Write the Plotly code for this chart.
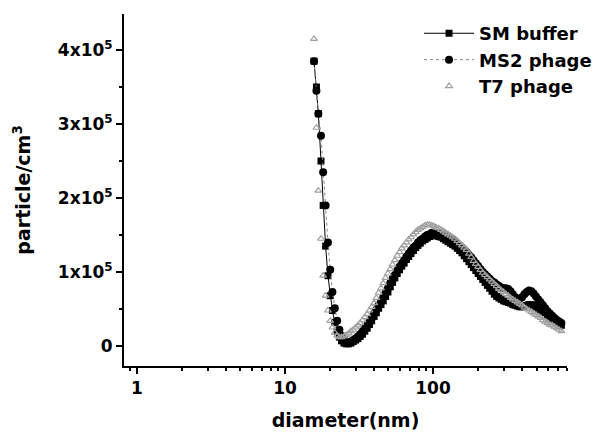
import plotly.graph_objects as go

# particle diameter channels (nm)
diameter = [
    15.7, 16.3, 16.8, 17.5, 18.1, 18.8, 19.5, 20.2, 20.9, 21.7,
    22.5, 23.3, 24.1, 25.0, 25.9, 26.9, 27.9, 28.9, 30.0, 31.1,
    32.2, 33.4, 34.6, 35.9, 37.2, 38.5, 40.0, 41.4, 42.9, 44.5,
    46.1, 47.8, 49.6, 51.4, 53.3, 55.2, 57.3, 59.4, 61.5, 63.8,
    66.1, 68.5, 71.0, 73.7, 76.4, 79.1, 82.0, 85.1, 88.2, 91.4,
    94.7, 98.2, 101.8, 105.5, 109.4, 113.4, 117.6, 121.9, 126.3, 131.0,
    135.8, 140.7, 145.9, 151.2, 156.8, 162.5, 168.5, 174.7, 181.1, 187.7,
    194.6, 201.7, 209.1, 216.7, 224.7, 232.9, 241.4, 250.3, 259.5, 269.0,
    278.8, 289.0, 299.6, 310.6, 322.0, 333.8, 346.0, 358.7, 371.8, 385.4,
    399.5, 414.2, 429.4, 445.1, 461.4, 478.3, 495.8, 514.0, 532.8, 552.3,
    572.5, 593.5, 615.3, 637.8, 661.2, 685.4, 710.5, 736.5,
]

# concentrations in units of 1e5 particle/cm3
sm_buffer = [
    3.85, 3.50, 3.14, 2.50, 1.90, 1.35, 0.95, 0.68, 0.48, 0.32,
    0.20, 0.12, 0.07, 0.04, 0.03, 0.03, 0.04, 0.06, 0.08, 0.10,
    0.13, 0.16, 0.20, 0.24, 0.29, 0.34, 0.40, 0.45, 0.51, 0.56,
    0.61, 0.67, 0.73, 0.80, 0.86, 0.92, 0.98, 1.03, 1.08, 1.12,
    1.17, 1.21, 1.25, 1.29, 1.33, 1.36, 1.39, 1.42, 1.44, 1.46,
    1.48, 1.49, 1.50, 1.49, 1.48, 1.47, 1.45, 1.43, 1.41, 1.39,
    1.37, 1.35, 1.32, 1.29, 1.26, 1.22, 1.18, 1.14, 1.10, 1.06,
    1.02, 0.98, 0.94, 0.90, 0.86, 0.82, 0.78, 0.74, 0.70, 0.67,
    0.65, 0.63, 0.61, 0.60, 0.59, 0.58, 0.56, 0.55, 0.54, 0.53,
    0.53, 0.54, 0.55, 0.56, 0.56, 0.55, 0.53, 0.51, 0.49, 0.47,
    0.45, 0.42, 0.40, 0.37, 0.35, 0.32, 0.30, 0.28,
]

ms2_phage = [
    3.85, 3.45, 3.14, 2.84, 2.35, 1.90, 1.40, 1.03, 0.73, 0.51,
    0.34, 0.22, 0.14, 0.09, 0.06, 0.05, 0.06, 0.08, 0.10, 0.13,
    0.16, 0.20, 0.24, 0.28, 0.33, 0.38, 0.44, 0.49, 0.55, 0.60,
    0.66, 0.72, 0.78, 0.85, 0.91, 0.96, 1.02, 1.07, 1.12, 1.16,
    1.21, 1.25, 1.29, 1.33, 1.36, 1.40, 1.43, 1.45, 1.48, 1.50,
    1.51, 1.53, 1.53, 1.53, 1.52, 1.51, 1.50, 1.48, 1.47, 1.45,
    1.43, 1.41, 1.38, 1.36, 1.33, 1.30, 1.27, 1.23, 1.20, 1.16,
    1.12, 1.08, 1.04, 1.00, 0.97, 0.94, 0.91, 0.88, 0.86, 0.83,
    0.81, 0.79, 0.78, 0.78, 0.77, 0.74, 0.70, 0.66, 0.64, 0.64,
    0.66, 0.70, 0.73, 0.75, 0.74, 0.71, 0.67, 0.63, 0.59, 0.55,
    0.51, 0.47, 0.44, 0.41, 0.38, 0.35, 0.33, 0.31,
]

t7_phage = [
    4.15, 2.95, 2.10, 1.45, 0.95, 0.68, 0.48, 0.34, 0.25, 0.18,
    0.14, 0.12, 0.12, 0.13, 0.15, 0.17, 0.20, 0.22, 0.25, 0.28,
    0.31, 0.35, 0.39, 0.43, 0.48, 0.53, 0.58, 0.65, 0.72, 0.78,
    0.85, 0.92, 0.98, 1.04, 1.10, 1.16, 1.22, 1.27, 1.32, 1.36,
    1.40, 1.44, 1.47, 1.51, 1.54, 1.57, 1.59, 1.61, 1.63, 1.64,
    1.64, 1.63, 1.62, 1.60, 1.59, 1.57, 1.55, 1.53, 1.51, 1.49,
    1.47, 1.45, 1.42, 1.39, 1.36, 1.33, 1.30, 1.25, 1.20, 1.15,
    1.11, 1.07, 1.03, 0.99, 0.96, 0.93, 0.90, 0.87, 0.84, 0.81,
    0.78, 0.75, 0.73, 0.70, 0.68, 0.65, 0.63, 0.61, 0.59, 0.57,
    0.55, 0.52, 0.50, 0.48, 0.46, 0.44, 0.42, 0.40, 0.38, 0.35,
    0.33, 0.31, 0.29, 0.28, 0.26, 0.24, 0.22, 0.20,
]

series_names = ["SM buffer", "MS2 phage", "T7 phage"]
y_tickvals = [0, 1, 2, 3, 4]
y_ticktext = ["0", "1x10<sup>5</sup>", "2x10<sup>5</sup>", "3x10<sup>5</sup>", "4x10<sup>5</sup>"]
x_tickvals = [1, 10, 100]
x_ticktext = ["1", "10", "100"]

FONT = "DejaVu Sans"

fig = go.Figure()
fig.add_trace(go.Scatter(
    x=diameter, y=sm_buffer, name=series_names[0], mode="lines+markers",
    line=dict(color="black", width=1),
    marker=dict(symbol="square", size=7, color="black"),
))
fig.add_trace(go.Scatter(
    x=diameter, y=ms2_phage, name=series_names[1], mode="lines+markers",
    line=dict(color="#888888", width=1, dash="dot"),
    marker=dict(symbol="circle", size=8, color="black"),
))
fig.add_trace(go.Scatter(
    x=diameter, y=t7_phage, name=series_names[2], mode="markers",
    marker=dict(symbol="triangle-up-open", size=6, color="#a0a0a0",
                line=dict(width=1.2, color="#a0a0a0")),
))

axis_font = dict(family=FONT, size=17, color="black", weight="bold")

fig.update_layout(
    width=607, height=433,
    margin=dict(l=116, r=48, t=6, b=75, autoexpand=False),
    paper_bgcolor="white", plot_bgcolor="white",
    showlegend=True,
    legend=dict(
        x=0.666, y=0.997, xanchor="left", yanchor="top",
        font=dict(family=FONT, size=18, color="black", weight="bold"),
        bgcolor="rgba(0,0,0,0)", itemwidth=50, tracegroupgap=0,
    ),
    xaxis=dict(
        type="log", range=[-0.0878, 2.905], automargin=False,
        tickvals=x_tickvals, ticktext=x_ticktext,
        showline=True, linecolor="black", linewidth=2,
        ticks="outside", ticklen=6, tickwidth=2, tickcolor="black",
        minor=dict(ticks="outside", ticklen=3, tickwidth=1.5, tickcolor="black",
                   dtick="D1", showgrid=False),
        showgrid=False, zeroline=False, mirror=False,
        tickfont=axis_font,
        title=dict(text="diameter(nm)", font=dict(family=FONT, size=19, color="black", weight="bold"),
                   standoff=16),
    ),
    yaxis=dict(
        range=[-0.27, 4.487], automargin=False,
        tickvals=y_tickvals, ticktext=y_ticktext,
        showline=True, linecolor="black", linewidth=2,
        ticks="outside", ticklen=6, tickwidth=2, tickcolor="black",
        minor=dict(ticks="outside", ticklen=3, tickwidth=1.5, tickcolor="black",
                   dtick=0.5, showgrid=False),
        showgrid=False, zeroline=False, mirror=False,
        tickfont=axis_font,
        title=dict(text="particle/cm<sup>3</sup>", font=dict(family=FONT, size=19, color="black", weight="bold"),
                   standoff=22),
    ),
)

fig.write_html("out.html")
